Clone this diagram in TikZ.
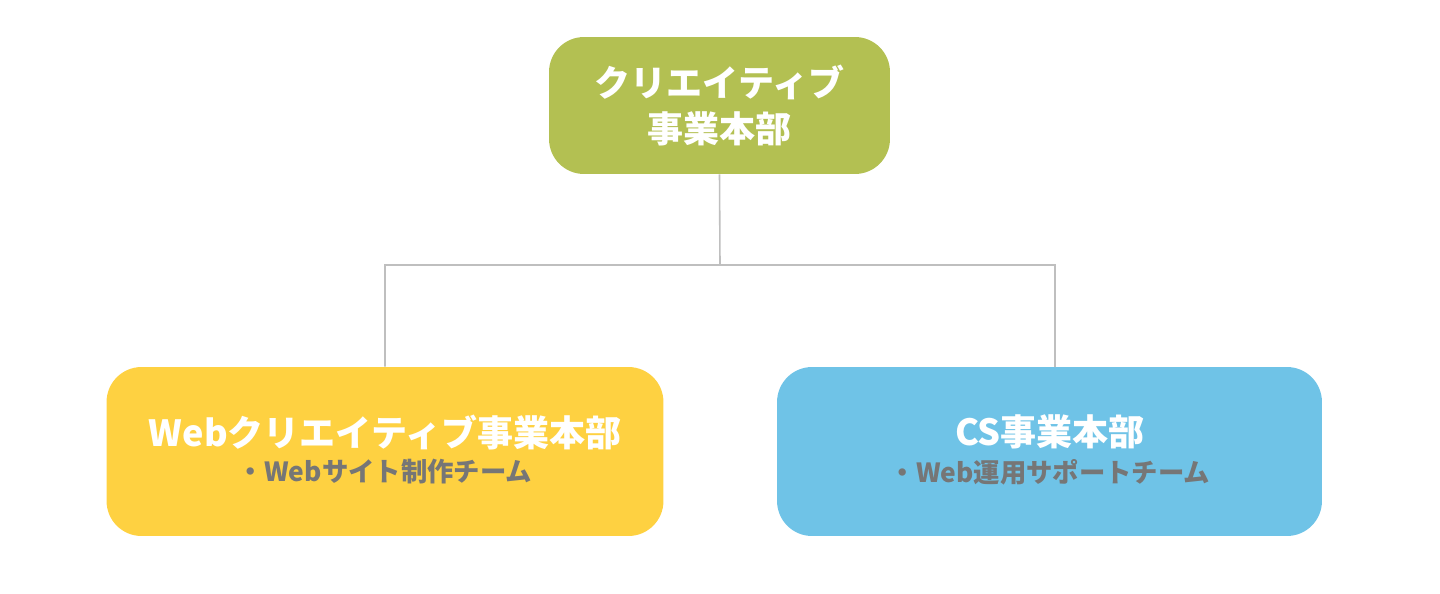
\documentclass[tikz,border=0pt]{standalone}
\usepackage{fontspec}
\setmainfont{Noto Sans CJK JP}
\usepackage{tikz}
\usepackage{xcolor}
\usetikzlibrary{calc, positioning}

\definecolor{boxgreen}{HTML}{B3C052}
\definecolor{boxyellow}{HTML}{FED141}
\definecolor{boxblue}{HTML}{6FC3E7}
\definecolor{subgray}{HTML}{767676}
\definecolor{linegray}{HTML}{BFBFBF}

\tikzset{
    dept/.style={rounded corners=0.7cm, text=white, align=center, font=\bfseries\fontsize{20.5}{26}\selectfont},
    deptname/.style={text=white, font=\bfseries\fontsize{20.5}{24}\selectfont},
    team/.style={text=subgray, font=\bfseries\fontsize{15}{18}\selectfont}
}

\begin{document}
\begin{tikzpicture}[x=0.02cm, y=-0.02cm]
                    \useasboundingbox (0, 0) rectangle (1440, 593);
                    \node[dept, fill=boxgreen, minimum width=6.82cm, minimum height=2.74cm] (top) at (719.5, 105.5)
                        {クリエイティブ\\事業本部};
                    \node[dept, fill=boxyellow, minimum width=11.14cm, minimum height=3.38cm] (web) at (385, 451.5) {};
                    \node[dept, fill=boxblue, minimum width=10.9cm, minimum height=3.38cm] (cs) at (1049.5, 451.5) {};

                    \node[deptname] (webname) at (385, 432) {Webクリエイティブ事業本部};
                    \node[team] (webteam) at (385, 472) {・Webサイト制作チーム};
                    \node[deptname] (csname) at (1050, 432) {CS事業本部};
                    \node[team] (csteam) at (1050, 472) {・Web運用サポートチーム};

                    \coordinate (split) at (720, 265);
                    \coordinate (csjoin) at (1055, 367);

                    \draw[linegray, line width=0.9pt]
                    (top.south) -- (split)
                    (web.north) |- (split)
                    (split) -| (csjoin);
                \end{tikzpicture}
\end{document}
